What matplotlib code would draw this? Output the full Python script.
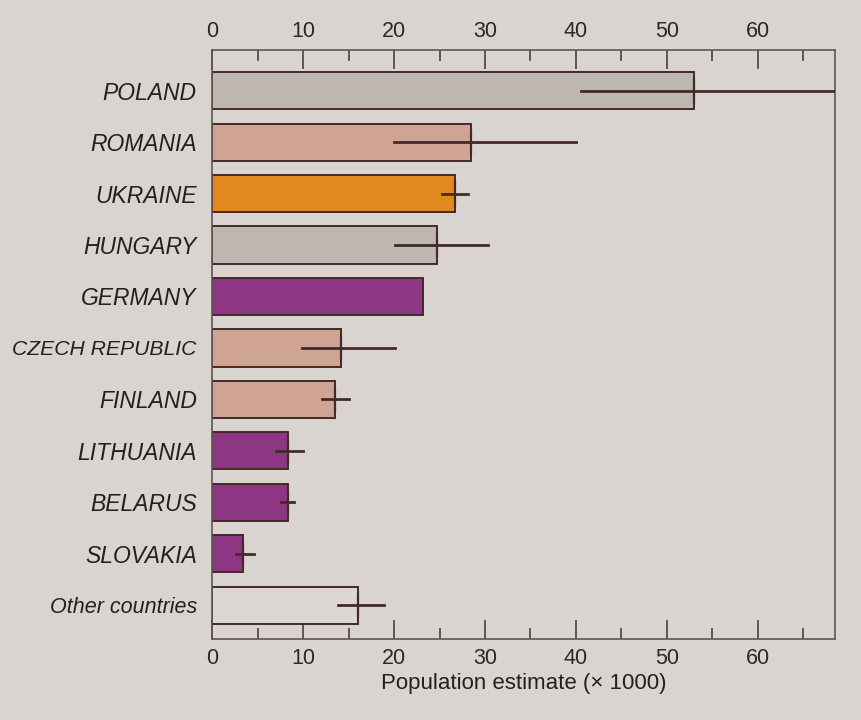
import numpy as np
import matplotlib
matplotlib.use('Agg')
from matplotlib import pyplot as plt
from matplotlib.ticker import MultipleLocator

# ---数据---
countries = ['POLAND', 'ROMANIA', 'UKRAINE', 'HUNGARY', 'GERMANY', 'CZECH REPUBLIC',
             'FINLAND', 'LITHUANIA', 'BELARUS', 'SLOVAKIA', 'Other countries']
estimate = [53, 28.5, 26.7, 24.7, 23.2, 14.2, 13.5, 8.4, 8.3, 3.4, 16]
err_low = [40.5, 20, 25.3, 20.1, np.nan, 9.9, 12.1, 7.0, 7.6, 2.6, 13.8]
err_high = [70, 40, 28.1, 30.3, np.nan, 20.1, 15.0, 10.0, 9.0, 4.6, 18.9]
colors = ['#bdb6b1', '#d0a493', '#e2891d', '#bdb6b1', '#8d3784', '#d0a493',
          '#d0a493', '#8d3784', '#8d3784', '#8d3784', '#dcd7d2']

bg = '#d9d4d0'
edge = '#45292a'

plt.rcParams['font.family'] = ['Liberation Sans', 'DejaVu Sans']

fig = plt.figure(figsize=(8.62, 7.2), dpi=100, facecolor=bg)
ax = fig.add_axes([0.246, 0.112, 0.723, 0.818], facecolor=bg)

y = np.arange(len(countries))
ax.barh(y, estimate, height=0.72, color=colors, edgecolor=edge, linewidth=1.4, zorder=2)

# 误差线：从下限到上限
for i in range(len(countries)):
    if not np.isnan(err_low[i]):
        ax.plot([err_low[i], err_high[i]], [i, i], color=edge, lw=2, zorder=3, clip_on=True)
        ax.plot([estimate[i], estimate[i]], [i - 0.22, i + 0.22], color=edge, lw=1.6, zorder=3)

ax.set_xlim(0, 68.5)
ax.set_ylim(10.66, -0.78)
ax.set_yticks(y)
ax.set_yticklabels(countries, fontsize=16.5, style='italic')
ax.get_yticklabels()[5].set_fontsize(15.2)   # CZECH REPUBLIC 在原图里较窄
ax.get_yticklabels()[-1].set_fontsize(15.5)
ax.tick_params(axis='y', length=0, pad=11, colors='#241f20')

ax.xaxis.set_major_locator(MultipleLocator(10))
ax.xaxis.set_minor_locator(MultipleLocator(5))
ax.tick_params(axis='x', which='both', direction='in', top=True, labeltop=True,
               bottom=True, labelbottom=True, colors='#4a4040', labelcolor='#2e2828',
               labelsize=15.5, pad=6)
ax.tick_params(axis='x', which='major', length=14, width=1.2)
ax.tick_params(axis='x', which='minor', length=8, width=1.2)
for s in ax.spines.values():
    s.set_color('#5f5552')
    s.set_linewidth(1.2)

ax.set_xlabel('Population estimate (\u00d7 1000)', fontsize=16, color='#241f20', labelpad=3)

fig.savefig('out.png', dpi=100, facecolor=bg)
